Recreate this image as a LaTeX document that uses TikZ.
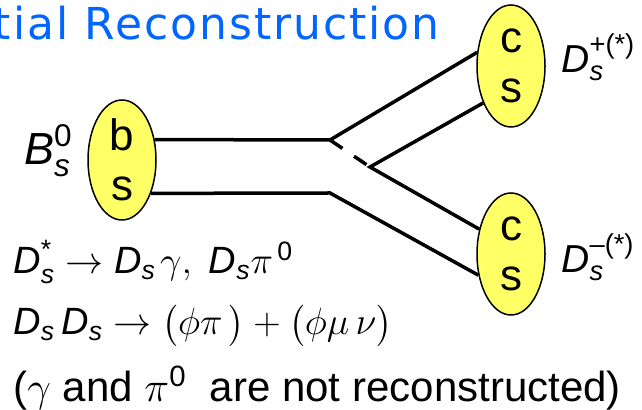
\documentclass[tikz,border=0pt]{standalone}
\usepackage{fix-cm}
\usepackage{amsmath}
\usepackage{fontspec}
\setmainfont{Liberation Sans}
\newfontfamily\titlefont[LetterSpace=4.5]{DejaVu Sans}
\usetikzlibrary{shapes.geometric}
\definecolor{titolo}{RGB}{0,102,255}
\definecolor{giallo}{RGB}{255,255,102}
\newcommand{\Ds}{\textit{D}_{\textit{s}}}
\begin{document}
\begin{tikzpicture}[x=0.5pt,y=-0.5pt,
    quark/.style={ellipse,draw,line width=0.75pt,fill=giallo,
        minimum width=34pt,minimum height=60pt,inner sep=0pt,
        align=center,font=\fontsize{22}{25}\selectfont},
    leg/.style={line width=1.75pt},
    label text/.style={inner sep=0pt}]
    \useasboundingbox (0,0) rectangle (642,410);

    % titolo
    \node[label text,anchor=base east,text=titolo,
        font=\titlefont\fontsize{22}{26}\selectfont]
        (title) at (440,40) {tial Reconstruction};

    % mesoni
    \node[quark] (bs) at (122,160) {b\\s};
    \node[quark,minimum height=61pt] (cup) at (511,66) {c\\s};
    \node[quark,minimum height=61pt] (cdown) at (511,254) {c\\s};

    % vertici
    \coordinate (v1) at (330,140);
    \coordinate (v2) at (370,167);
    \coordinate (v3) at (330,193);

    % linee dei quark
    \draw[leg] (bs.32) -- (v1) -- (cup.158.6);
    \draw[leg] (bs.-49) -- (v3) -- (cdown.213.4);
    \draw[leg] (cup.233.9) -- (v2) -- (cdown.142.5);
    \draw[leg,dash pattern=on 7.5pt off 7pt] (v1) -- (v2);

    % nomi dei mesoni
    \node[label text,anchor=base east,font=\fontsize{22.5}{27}\selectfont]
        (lblB) at (73,165) {$\textit{B}_{\textit{s}}^{\text{0}}$};
    \node[label text,anchor=base west,font=\fontsize{19.5}{23}\selectfont]
        (lblDp) at (561,73) {$\Ds^{\text{+(*)}}$};
    \node[label text,anchor=base west,font=\fontsize{19.5}{23}\selectfont]
        (lblDm) at (561,273) {$\Ds^{\text{--(*)}}$};

    % decadimenti
    \node[label text,anchor=base west,font=\fontsize{19}{23}\selectfont]
        (eq1) at (13,274) {$\Ds^{\text{*}}\rightarrow\Ds\mkern2mu\gamma,\;\Ds\pi^{\,\text{0}}$};
    \node[label text,anchor=base west,font=\fontsize{19}{23}\selectfont]
        (eq2) at (13,335) {$\Ds\,\Ds\rightarrow\bigl(\phi\pi\,\bigr)+\bigl(\phi\mu\,\nu\bigr)$};
    \node[label text,anchor=base west,font=\fontsize{21}{25}\selectfont]
        (note) at (13,402) {($\gamma$ and $\pi^{\text{0}}$\ \ are not reconstructed)};
\end{tikzpicture}
\end{document}
